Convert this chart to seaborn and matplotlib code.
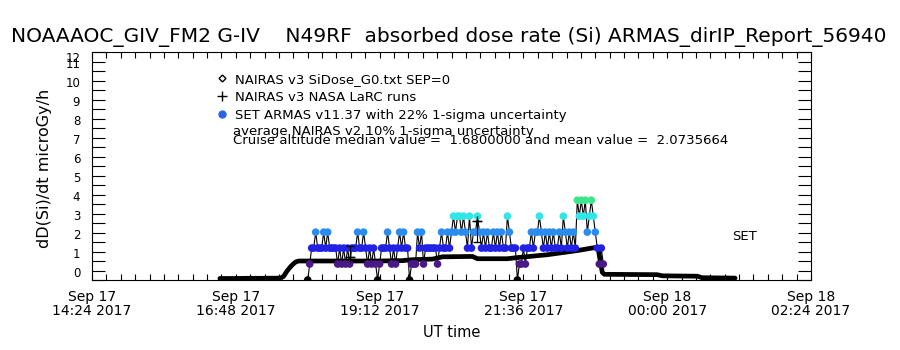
import pandas as pd
import seaborn as sns
import matplotlib.pyplot as plt
import matplotlib.dates as mdates
from matplotlib.ticker import MultipleLocator
from matplotlib.lines import Line2D

title = 'NOAAAOC_GIV_FM2 G-IV    N49RF  absorbed dose rate (Si) ARMAS_dirIP_Report_56940'

# NAIRAS v3 G0 model along the flight track
nairas_times = ['2017-09-17 16:32', '2017-09-17 16:45', '2017-09-17 17:00', '2017-09-17 17:15',
                '2017-09-17 17:33', '2017-09-17 17:36', '2017-09-17 17:39', '2017-09-17 17:42',
                '2017-09-17 17:45', '2017-09-17 17:48', '2017-09-17 17:51', '2017-09-17 18:30',
                '2017-09-17 19:10', '2017-09-17 19:35', '2017-09-17 19:45', '2017-09-17 20:05',
                '2017-09-17 20:15', '2017-09-17 20:45', '2017-09-17 20:50', '2017-09-17 21:20',
                '2017-09-17 21:30', '2017-09-17 22:00', '2017-09-17 22:30', '2017-09-17 22:49',
                '2017-09-17 22:51', '2017-09-17 22:53', '2017-09-17 22:55', '2017-09-17 22:57',
                '2017-09-17 23:50', '2017-09-17 23:55', '2017-09-18 00:30', '2017-09-18 00:35',
                '2017-09-18 01:08']
nairas_dose = [0.08, 0.08, 0.09, 0.09,
               0.10, 0.20, 0.45, 0.65,
               0.82, 0.95, 1.00, 1.00,
               1.00, 1.02, 1.07, 1.10,
               1.22, 1.24, 1.12, 1.12,
               1.18, 1.33, 1.55, 1.72,
               1.60, 1.00, 0.40, 0.30,
               0.28, 0.22, 0.20, 0.12,
               0.10]

# NASA LaRC runs (with bars)
larc_times = ['2017-09-17 18:42', '2017-09-17 20:50']
larc_dose = [1.2, 3.1]
larc_low = [0.0, 1.1]
larc_high = [0.6, 0.0]

# ARMAS samples, 2 minute cadence, level index into level_dose
armas_start = '2017-09-17 18:00'
armas_level = [0, 1, 2, 2, 3, 2, 2, 2, 3, 2, 3, 2, 2, 2, 2, 1, 2, 1, 2, 1,
               2, 1, 2, 2, 2, 3, 2, 2, 3, 2, 1, 2, 1, 2, 1, 0, 1, 2, 2, 2,
               3, 2, 1, 2, 1, 2, 3, 2, 3, 2, 2, 0, 1, 1, 1, 3, 2, 3, 1, 2,
               2, 2, 2, 2, 2, 1, 2, 3, 2, 2, 3, 2, 3, 4, 3, 4, 4, 3, 4, 3,
               2, 4, 2, 3, 3, 4, 3, 2, 3, 2, 3, 2, 2, 3, 2, 3, 2, 3, 2, 2,
               4, 3, 2, 2, 2, 0, 1, 1, 2, 1, 2, 2, 3, 2, 3, 3, 4, 3, 2, 3,
               2, 3, 2, 3, 2, 2, 3, 2, 4, 3, 2, 3, 2, 3, 2, 5, 4, 5, 4, 5,
               3, 4, 5, 4, 3, 2, 1, 2, 1]
level_dose = [0.0, 0.84, 1.68, 2.52, 3.36, 4.20]
level_color = ['black', '#4b1887', '#2222e6', '#2a8cf0', '#30e6e6', '#3ce68c']

tick_times = ['2017-09-17 14:24', '2017-09-17 16:48', '2017-09-17 19:12',
              '2017-09-17 21:36', '2017-09-18 00:00', '2017-09-18 02:24']

legend_labels = ['NAIRAS v3 SiDose_G0.txt SEP=0',
                 'NAIRAS v3 NASA LaRC runs',
                 'SET ARMAS v11.37 with 22% 1-sigma uncertainty']
note_lines = ['average NAIRAS v2 10% 1-sigma uncertainty',
              'Cruise altitude median value =  1.6800000 and mean value =  2.0735664']

nairas = pd.DataFrame({'time': pd.to_datetime(nairas_times), 'dose': nairas_dose})
armas = pd.DataFrame({'time': pd.date_range(armas_start, periods=len(armas_level), freq='2min'),
                      'level': armas_level})
armas['dose'] = [level_dose[k] for k in armas['level']]

sns.set_style('ticks')
plt.rcParams['font.family'] = ['DejaVu Sans']
for key in ['text.color', 'axes.labelcolor', 'xtick.color', 'ytick.color', 'axes.edgecolor']:
    plt.rcParams[key] = 'black'
plt.rcParams['axes.linewidth'] = 0.8

fig = plt.figure(figsize=(9, 3.5), dpi=100)
ax = fig.add_axes([92 / 900, 70 / 350, 719 / 900, 228 / 350])

sns.lineplot(data=nairas, x='time', y='dose', color='black', linewidth=3.4, ax=ax, zorder=2)
sns.lineplot(data=armas, x='time', y='dose', color='black', linewidth=0.8,
             estimator=None, sort=False, ax=ax, zorder=3)
sns.scatterplot(data=armas, x='time', y='dose', hue='level',
                palette=dict(enumerate(level_color)), s=30, linewidth=0,
                legend=False, ax=ax, zorder=4)
ax.errorbar(pd.to_datetime(larc_times), larc_dose, yerr=[larc_low, larc_high],
            fmt='+', color='black', ms=7, mew=1.0, capsize=3, elinewidth=0.8, zorder=5)

ax.set_xlim(pd.Timestamp(tick_times[0]), pd.Timestamp(tick_times[-1]))
ax.set_xticks(pd.to_datetime(tick_times))
ax.xaxis.set_major_formatter(mdates.DateFormatter('%b %d\n%H:%M %Y'))
ax.xaxis.set_minor_locator(MultipleLocator(0.01))
ax.set_ylim(0, 12)
ax.set_yticks(range(13))
ax.yaxis.set_minor_locator(MultipleLocator(0.5))
ax.tick_params(axis='x', which='both', direction='in', top=True, length=4.5,
               width=0.8, labelsize=10, pad=7)
ax.tick_params(axis='y', which='both', direction='in', right=True, length=9.5,
               width=0.8, labelsize=8.5, pad=8.5)
for lbl in ax.get_xticklabels():
    lbl.set_linespacing(1.0)
ylabels = ax.get_yticklabels()
for lbl in ylabels:
    lbl.set_va('bottom')
ylabels[-1].set_va('top')

ax.set_ylabel('dD(Si)/dt microGy/h', fontsize=11.5)
ax.yaxis.set_label_coords(-0.056, 0.49)
ax.set_xlabel('UT time', fontsize=10.5)
ax.xaxis.set_label_coords(0.5, -0.197)

fig.text(0.4985, 1 - 37 / 350, title, ha='center', va='center', fontsize=14.5)

handles = [Line2D([], [], ls='none', marker='D', ms=3.5, mfc='white', mec='black', mew=1.0),
           Line2D([], [], ls='none', marker='+', ms=7, color='black', mew=1.0),
           Line2D([], [], ls='none', marker='o', ms=5, color='#2a64e6')]
fig.legend(handles, legend_labels, loc='upper left', bbox_to_anchor=(217 / 900, 1 - 73 / 350),
           frameon=False, fontsize=9.5, handlelength=0.8, handletextpad=0.55,
           labelspacing=0.38, borderpad=0, borderaxespad=0)
fig.text(233 / 900, 1 - 131 / 350, note_lines[0], va='center', fontsize=9.5)
fig.text(233 / 900, 1 - 140 / 350, note_lines[1], va='center', fontsize=9.5)
ax.text(0.907, 0.189, 'SET', transform=ax.transAxes, ha='center', va='center', fontsize=9.5)

fig.savefig('out.png', dpi=100)
